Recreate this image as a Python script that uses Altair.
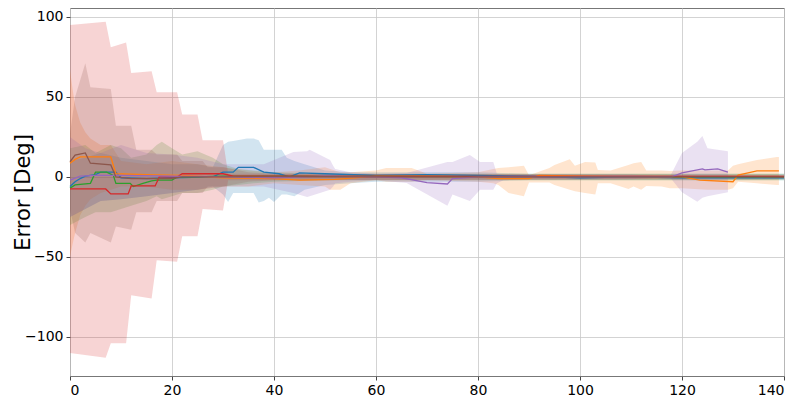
import altair as alt
import pandas as pd

# ---------------- data ----------------
series = ["C0", "C1", "C2", "C3", "C4", "C5"]
colors = ["#1f77b4", "#ff7f0e", "#2ca02c", "#d62728", "#9467bd", "#8c564b"]

# C0 blue
c0_lx = [0, 1, 2, 3, 5, 6, 9, 10, 15, 20, 28, 30, 32, 33, 36, 38, 41, 43, 45, 50, 60, 70, 80, 90, 100, 110, 120, 130, 140]
c0_ly = [-6, -3, -1, 0.5, 1.5, 3, 3, -0.5, -1, -0.5, 0, 3, 3, 6, 6, 3, 2, 0, 2.5, 2, 1, 1.5, 1, 0.5, -0.5, 0, -0.5, -0.5, -0.6]
c0_bx = [0, 3, 6, 10, 15, 20, 25, 28, 30, 31, 32, 34.7, 36, 37, 38, 39, 40, 41.5, 42.5, 44, 46, 50, 55, 60, 70, 80, 90, 100, 110, 120, 130, 140]
c0_hi = [10, 12, 15, 12, 10, 8, 8, 6, 20, 22, 22.5, 24, 24, 23, 17, 17, 17, 17, 12, 10, 8, 4, 3, 3, 3, 3, 2, 2, 2, 2, 2, 2]
c0_lo = [-25, -20, -15, -14, -12, -10, -8, -6, -11, -15.6, -10, -10, -10, -16, -15, -13, -15.6, -11, -11, -12, -8, -5, -4, -3, -3, -3, -2, -2, -2, -2, -2, -2]

# C1 orange
c1_lx = [0, 1, 2, 8, 9, 15, 22, 30, 40, 45, 52, 60, 70, 80, 84, 90, 92, 100, 110, 120, 123.5, 130, 131, 134.7, 139]
c1_ly = [8.6, 11, 12.5, 12.5, 2, 1.5, 1, -0.5, -1, -2, -1.5, 0.5, 0.5, 0, -1, -1, 1, 0.5, 0, 0, -2, -3, 1.2, 3.8, 3.8]
c1_bx = [0, 0.5, 1, 2, 3, 4, 6, 8, 10, 15, 20, 25, 30, 35, 40, 45, 50, 51, 53, 55, 60, 62, 67, 70, 80, 83, 84, 86, 89, 90, 94, 95, 98, 99, 101, 103, 103.5, 106, 109.5, 110.5, 112, 113, 116, 117.6, 120, 125, 129, 130, 131, 134.7, 138.6, 139]
c1_hi = [67, 55, 45, 34, 28, 24, 20, 20, 10, 8, 10, 8, 6, 4, 3, 4, 6, 5, 3, 3, 4, 5.6, 5.6, 2, 3, 5, 5.6, 6, 7, 1, 5.6, 7.5, 11, 7, 9.4, 9, 4.4, 4, 7.5, 8.5, 9.4, 4, 4, 3.8, 4, 4, 4, 7, 8, 10.6, 12.5, 12.5]
c1_lo = [-50, -42, -35, -24, -18, -14, -10, -8, -6, -6, -8, -8, -6, -6, -4, -5, -6, -8, -8, -4, -2, -3, -3, -2, -3, -4, -5, -10, -12, -3.5, -3.5, -5, -8, -9, -10, -11, -4, -4, -7.5, -6, -8, -5.6, -6, -7, -7, -8, -8, -7, -3, -4, -5, -5]

# C2 green
c2_lx = [0, 1, 4, 5, 7.2, 8.5, 9, 11.8, 12.4, 14.3, 16, 17, 20, 21, 25, 30, 140]
c2_ly = [-7, -5, -4, 3, 3, 1, -4, -4, -6, -4, -2.5, -2, -2, 0, 0, 0.5, 0]
c2_bx = [0, 3, 5, 8, 10, 12, 15, 17, 18, 20, 22, 25, 28, 30, 33, 36, 40, 50, 140]
c2_hi = [18, 20, 15, 20, 18, 12, 14, 20, 22, 18, 14, 16, 12, 8, 5, 4, 3, 2, 2]
c2_lo = [-30, -25, -22, -22, -20, -18, -15, -12, -14, -12, -10, -10, -8, -6, -5, -4, -3, -2, -2]

# C3 red
c3_lx = [0, 7, 8, 11.4, 12, 16.7, 17.5, 21, 22, 30, 32, 140]
c3_ly = [-7.5, -7.5, -10.6, -10.6, -5.6, -5.6, 0, 0, 2, 2, 0.5, 0.3]
c3_bx = [0, 7, 8, 11, 12, 16, 17, 21, 22, 25, 26, 30, 31, 40, 140]
c3_hi = [95, 97, 81, 84, 65, 66, 53, 53, 39, 39, 23, 23, 2, 2, 1]
c3_lo = [-110, -113, -104, -104, -74, -76, -52, -53, -37, -37, -20, -21, -2, -2, -1]

# C4 purple
c4_lx = [0, 2, 5, 10, 20, 30, 40, 50, 60, 65, 70, 74, 75, 80, 90, 100, 110, 118, 120, 124, 124.5, 127, 129]
c4_ly = [-2, 0.5, 1, 1, 0.5, 0, -0.5, 0.5, 0, -0.5, -3.5, -4.4, -1, 0, 0, 0, 0, 0, 2.5, 5, 4.4, 5, 3]
c4_bx = [0, 3, 6, 10, 15, 20, 25, 30, 35, 38, 43.8, 46.5, 47, 51, 51.6, 52, 55, 60, 66, 74, 75, 78.4, 80.4, 83, 83.7, 85, 90, 100, 110, 117.6, 120, 123, 124, 125, 129]
c4_hi = [25, 18, 15, 20, 15, 14, 12, 8, 8, 8, 15.6, 16, 17, 10.6, 7, 5, 3, 2, 2.5, 9.4, 9.4, 13.7, 9.4, 9.4, 2, 1.5, 1.5, 1.5, 1.5, 0, 15, 22, 25.6, 18, 16]
c4_lo = [-25, -20, -15, -14, -12, -10, -8, -6, -6, -6, -10, -12.5, -12, -8, -6, -4, -3, -2, -3.8, -18, -11, -15, -8, -8, -4, -2, -1.5, -1.5, -1.5, 0, -9.6, -15.5, -13, -12, -9.6]

# C5 brown
c5_lx = [0, 1, 3, 4, 8, 9, 12, 20, 22, 30, 40, 60, 80, 100, 120, 140]
c5_ly = [9.5, 13.7, 15, 8.6, 7.5, 0, -1, -1, 0, 0, 0.3, 0, 0, 0, 0, 0]
c5_bx = [0, 1, 3, 4, 8, 9, 12, 13, 16, 17, 21, 22, 26, 27, 30, 35, 40, 140]
c5_hi = [27, 50, 71, 56, 55, 32, 32, 17, 17, 14, 14, 10, 10, 6, 6, 3, 2, 1.5]
c5_lo = [-20, -35, -41, -35, -41, -31, -33, -22, -22, -15, -15, -10, -10, -6, -6, -3, -2, -1.5]

x_ticks = [0, 20, 40, 60, 80, 100, 120, 140]
y_ticks = [-100, -50, 0, 50, 100]

# ---------------- tables ----------------
lines_src = [(c0_lx, c0_ly), (c1_lx, c1_ly), (c2_lx, c2_ly), (c3_lx, c3_ly), (c4_lx, c4_ly), (c5_lx, c5_ly)]
bands_src = [(c0_bx, c0_lo, c0_hi), (c1_bx, c1_lo, c1_hi), (c2_bx, c2_lo, c2_hi),
             (c3_bx, c3_lo, c3_hi), (c4_bx, c4_lo, c4_hi), (c5_bx, c5_lo, c5_hi)]

line_rows = []
for s, (xs, ys) in zip(series, lines_src):
    for xv, yv in zip(xs, ys):
        line_rows.append({"s": s, "x": xv, "y": yv})
band_rows = []
for s, (xs, los, his) in zip(series, bands_src):
    for xv, lo, hi in zip(xs, los, his):
        band_rows.append({"s": s, "x": xv, "lo": lo, "hi": hi})

line_df = pd.DataFrame(line_rows)
band_df = pd.DataFrame(band_rows)

xscale = alt.Scale(domain=[0, 140], nice=False, zero=False)
yscale = alt.Scale(domain=[-124.4, 105.6], nice=False, zero=False)
cscale = alt.Scale(domain=series, range=colors)

xaxis = alt.Axis(values=x_ticks, format="d", title=None, grid=True, labelFontSize=14,
                 tickSize=4, labelPadding=3, domain=False, labelColor="#000000", tickColor="#444444")
yaxis = alt.Axis(values=y_ticks, format="d", title="Error [Deg]", grid=True, labelFontSize=14,
                 tickSize=4, labelPadding=3, domain=False, labelColor="#000000", tickColor="#444444",
                 titleFontSize=21, titleFontWeight="normal", titleColor="#000000",
                 titleX=-41, titleY=184, titleAngle=270, titleAlign="center", titleBaseline="alphabetic")

bands = alt.Chart(band_df).mark_area(opacity=0.2, interpolate="linear").encode(
    x=alt.X("x:Q", scale=xscale, axis=xaxis),
    y=alt.Y("lo:Q", scale=yscale, axis=yaxis),
    y2="hi:Q",
    color=alt.Color("s:N", scale=cscale, legend=None),
)

lines = alt.Chart(line_df).mark_line(strokeWidth=1.3, interpolate="linear").encode(
    x=alt.X("x:Q", scale=xscale),
    y=alt.Y("y:Q", scale=yscale),
    color=alt.Color("s:N", scale=cscale, legend=None),
)

chart = alt.layer(bands, lines).properties(
    width=714, height=368,
    padding={"left": 62, "top": 0, "right": 8, "bottom": 22},
    autosize=alt.AutoSizeParams(type="none"),
).configure_view(
    stroke="#777777", strokeWidth=1
).configure_axis(
    labelFont="DejaVu Sans", titleFont="DejaVu Sans",
    gridColor="#c8c8c8", gridWidth=0.8,
)

chart.save("out.html", embed_options={"renderer": "svg", "actions": False})
